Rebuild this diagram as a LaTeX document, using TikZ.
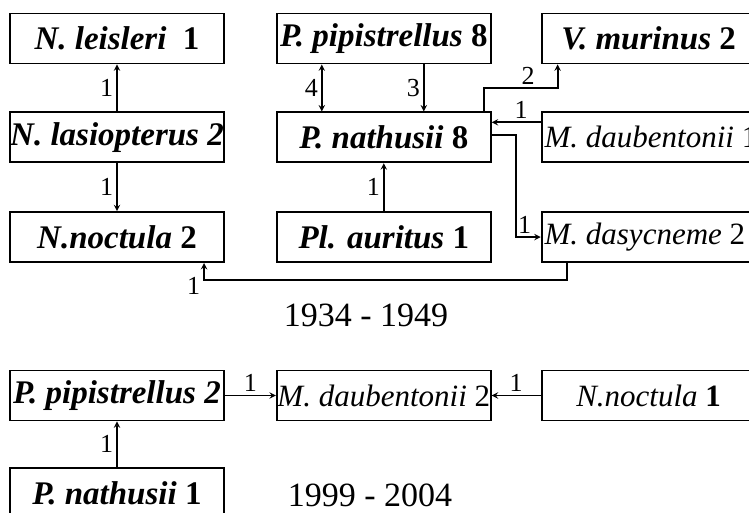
\documentclass[tikz,border=0pt]{standalone}
\usepackage{fontspec}
\newfontfamily\boxfont{Liberation Serif}
\usetikzlibrary{arrows,positioning}

\begin{document}
\begin{tikzpicture}[
    x=1pt, y=-1pt,
    species/.style={rectangle, draw, line width=1.8pt, minimum width=214pt, minimum height=50pt, inner sep=0pt, align=center, font=\boxfont\fontsize{33}{36}\selectfont\bfseries},
    speciesm/.style={species, font=\boxfont\fontsize{31}{36}\selectfont},
    leftbox/.style={inner xsep=3pt},
    arrow/.style={->, >=stealth, line width=1.8pt},
    lab/.style={font=\boxfont\fontsize{26}{28}\selectfont, inner sep=3pt},
    period/.style={font=\boxfont\fontsize{34}{38}\selectfont}
]
\useasboundingbox (0,0) rectangle (749,513);
\clip (0,0) rectangle (749,513);

% 1934 - 1949
\node[species] (leisleri) at (117,38.5) {\textit{N. leisleri}~~1};
\node[species, below=47pt of leisleri] (lasiopterus) {\textit{N. lasiopterus 2}};
\node[species, below=48pt of lasiopterus] (noctula) {\textit{N.noctula} 2};
\node[species, right=51pt of leisleri] (pipistrellus) {\textit{P. pipistrellus} 8};
\node[species, right=51pt of lasiopterus] (nathusii) {\textit{P. nathusii} 8};
\node[species, right=51pt of noctula] (auritus) {\textit{Pl. auritus} 1};
\node[species, right=49pt of pipistrellus] (murinus) {\textit{V. murinus} 2};
\node[speciesm, leftbox, right=49pt of nathusii] (daubentonii) {\makebox[208pt][l]{\textit{M. daubentonii} 1}};
\node[speciesm, leftbox, right=49pt of auritus] (dasycneme) {\makebox[208pt][l]{\textit{M. dasycneme} 2}};

\node[period] (early) at (366,315) {1934 - 1949};

% 1999 - 2004
\node[species] (pipB) at (117,395.5) {\textit{P. pipistrellus 2}};
\node[speciesm, right=51pt of pipB] (daubB) {\textit{M. daubentonii} 2};
\node[speciesm, right=49pt of daubB] (noctB) {\textit{N.noctula} \textbf{1}};
\node[species, below=46pt of pipB] (nathB) {\textit{P. nathusii} 1};

\node[period] (late) at (370,495) {1999 - 2004};

% Arrows - 1934 - 1949
\draw[arrow] (lasiopterus) -- node[lab, left] {1} (leisleri);
\draw[arrow] (lasiopterus) -- node[lab, left] {1} (noctula);
\draw[arrow, <->] ([xshift=-62pt]pipistrellus.south) -- node[lab, left] {4} ([xshift=-62pt]nathusii.north);
\draw[arrow] ([xshift=40pt]pipistrellus.south) -- node[lab, left] {3} ([xshift=40pt]nathusii.north);
\draw[arrow] (auritus) -- node[lab, left] {1} (nathusii);
\draw[arrow] ([xshift=100pt]nathusii.north) |- ([xshift=-91pt,yshift=-24pt]murinus.south) node[lab, pos=.8, above] {2} -- ([xshift=-91pt]murinus.south);
\draw[arrow] ([yshift=15pt]daubentonii.west) -- node[lab, pos=.4, above] {1} ([yshift=15pt]nathusii.east);
\draw[arrow] ([yshift=2pt]nathusii.east) -- ++(24,0) |- node[lab, pos=.68, above] {1} (dasycneme.west);
\draw[arrow] ([xshift=-82pt]dasycneme.south) -- ++(0,17) -| node[lab, pos=.5, left, yshift=-6pt] {1} ([xshift=87pt]noctula.south);

% Arrows - 1999 - 2004
\draw[arrow] (pipB) -- node[lab, above] {1} (daubB);
\draw[arrow] (noctB) -- node[lab, above] {1} (daubB);
\draw[arrow] (nathB) -- node[lab, left] {1} (pipB);

\end{tikzpicture}
\end{document}
